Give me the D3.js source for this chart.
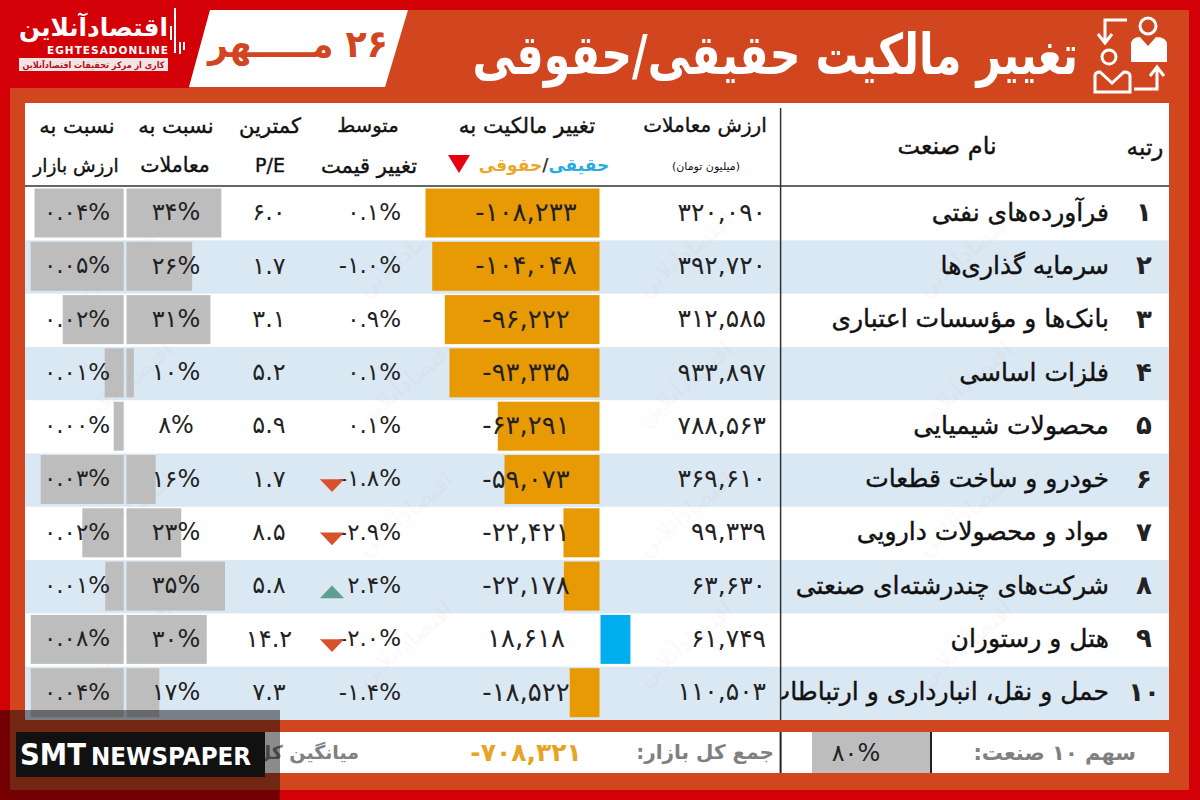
<!DOCTYPE html>
<html lang="fa">
<head>
<meta charset="utf-8">
<script src="https://cdn.jsdelivr.net/npm/d3@7/dist/d3.min.js"></script>
<style>
    html, body { margin: 0; padding: 0; background: #d40008; }
    svg { display: block; }
    text { font-family: "DejaVu Sans", "Noto Sans", sans-serif; }
</style>
</head>
<body>
<script>
const ranks = [1, 2, 3, 4, 5, 6, 7, 8, 9, 10];
const industries = ["فرآورده‌های نفتی", "سرمایه گذاری‌ها", "بانک‌ها و مؤسسات اعتباری", "فلزات اساسی", "محصولات شیمیایی",
    "خودرو و ساخت قطعات", "مواد و محصولات دارویی", "شرکت‌های چندرشته‌ای صنعتی", "هتل و رستوران", "حمل و نقل، انبارداری و ارتباطات"];
const tradeValue = [320090, 392720, 312585, 933897, 788563, 369610, 99339, 63630, 61749, 110503];
const netChange = [-108233, -104048, -96222, -93335, -63291, -59073, -22421, -22178, 18618, -18522];
const priceChange = [0.1, -1.0, 0.9, 0.1, 0.1, -1.8, -2.9, 2.4, -2.0, -1.4];
const minPE = [6.0, 1.7, 3.1, 5.2, 5.9, 1.7, 8.5, 5.8, 14.2, 7.3];
const tradeShare = [34, 26, 31, 10, 8, 16, 23, 35, 30, 17];
const marketShare = [0.0408, 0.05, 0.024, 0.012, 0.004, 0.034, 0.0184, 0.0115, 0.08, 0.0449];
const marketTotal = -708321;
const topTenShare = 80;

const RED = "#d40008", PANEL = "#d2461f", INK = "#222222", GREY = "#808080";
const fa = s => String(s).replace("−", "-").replace(/\d/g, d => "۰۱۲۳۴۵۶۷۸۹"[d]);
const comma = d3.format(",");

const svg = d3.select("body").append("svg")
    .attr("width", 1200)
    .attr("height", 800);

// frame
svg.append("rect").attr("width", 1200).attr("height", 800).attr("fill", RED);
svg.append("polygon")
    .attr("points", "210,10 1189,10 1189,790 10,790 10,88 189,88")
    .attr("fill", PANEL);
svg.append("rect").attr("x", 25).attr("y", 103).attr("width", 1144).attr("height", 617).attr("fill", "white");

// rows
const y = d3.scaleBand().domain(ranks).range([187, 720]);
const barH = y.bandwidth() - 4.3;

svg.selectAll(".band")
    .data(ranks.filter(r => r % 2 == 0))
    .enter()
    .append("rect")
    .attr("class", "band")
    .attr("x", 25)
    .attr("y", d => y(d))
    .attr("width", 1144)
    .attr("height", y.bandwidth())
    .attr("fill", "#dae8f4");

// watermark, very faint
const marks = d3.range(0, 16);
svg.selectAll(".mark")
    .data(marks)
    .enter()
    .append("text")
    .attr("class", "mark")
    .attr("transform", d => `translate(${130 + (d % 4) * 280},${260 + Math.floor(d / 4) * 130}) rotate(-40)`)
    .attr("text-anchor", "middle")
    .attr("font-size", 24)
    .attr("fill", "#d40008")
    .attr("opacity", 0.025)
    .text("اقتصادآنلاین");

// net change bars, zero sits on the column edge
const xNet = d3.scaleLinear().domain([0, 108233]).range([0, 174]);
const zeroX = 599.5;
svg.selectAll(".net")
    .data(ranks)
    .enter()
    .append("rect")
    .attr("class", "net")
    .attr("x", (d, i) => netChange[i] < 0 ? zeroX - xNet(-netChange[i]) : zeroX + 1)
    .attr("y", d => y(d) + 1.5)
    .attr("width", (d, i) => xNet(Math.abs(netChange[i])))
    .attr("height", barH)
    .attr("fill", (d, i) => netChange[i] < 0 ? "#e89a05" : "#00aeef");

// share of trades, data bar starts at the smallest value
const xTrade = d3.scaleLinear().domain([8, 35]).range([126.5, 225]);
svg.selectAll(".trade")
    .data(ranks)
    .enter()
    .append("rect")
    .attr("class", "trade")
    .attr("x", 126.5)
    .attr("y", d => y(d) + 1.5)
    .attr("width", (d, i) => xTrade(tradeShare[i]) - 126.5)
    .attr("height", barH)
    .attr("fill", "#bdbdbd");

// share of market value, bars grow from the right and the cell caps them
const xMarket = d3.scaleLinear()
    .domain([0.004, 0.012, 0.024, 0.034, 0.045])
    .range([10, 19, 61, 83, 93])
    .clamp(true);
svg.selectAll(".market")
    .data(ranks)
    .enter()
    .append("rect")
    .attr("class", "market")
    .attr("x", (d, i) => 123.7 - xMarket(marketShare[i]))
    .attr("y", d => y(d) + 1.5)
    .attr("width", (d, i) => xMarket(marketShare[i]))
    .attr("height", barH)
    .attr("fill", "#bdbdbd");

// numbers in the columns
function column(name, anchor, x, size, label) {
    return svg.selectAll("." + name)
        .data(ranks)
        .enter()
        .append("text")
        .attr("class", name)
        .attr("x", x)
        .attr("y", d => y(d) + y.bandwidth() / 2 - 2)
        .attr("dy", "0.36em")
        .attr("text-anchor", anchor)
        .attr("direction", "ltr")
        .attr("font-size", size)
        .attr("fill", INK)
        .text((d, i) => label(i));
}
column("c-market", "middle", 77, 23, i => fa(d3.format(".2f")(marketShare[i])) + "%");
column("c-trade", "middle", 176, 24, i => fa(tradeShare[i]) + "%");
column("c-pe", "middle", 269, 24, i => fa(minPE[i].toFixed(1)));
column("c-price", "end", 401, 23, i => fa(priceChange[i].toFixed(1)) + "%");
column("c-net", "middle", 526, 26, i => fa(comma(netChange[i])));
column("c-value", "end", 766, 25, i => fa(comma(tradeValue[i])));
column("c-rank", "middle", 1144, 26, i => fa(ranks[i])).attr("font-weight", "bold");

// price change arrows for the large moves only
const tri = d3.symbol().type(d3.symbolTriangle).size(130);
svg.selectAll(".arrow")
    .data(ranks.filter((d, i) => Math.abs(priceChange[i]) > 1.5))
    .enter()
    .append("path")
    .attr("class", "arrow")
    .attr("d", tri)
    .attr("transform", d => {
        const up = priceChange[d - 1] > 0;
        return `translate(332,${y(d) + (up ? 34 : 30)}) rotate(${up ? 0 : 180}) scale(1.4,0.85)`;
    })
    .attr("fill", d => priceChange[d - 1] > 0 ? "#5f9f8f" : "#d9512c");

// industry names, the last one runs into the divider
svg.append("clipPath").attr("id", "names")
    .append("rect").attr("x", 781).attr("y", 187).attr("width", 388).attr("height", 533);
svg.append("g").attr("clip-path", "url(#names)")
    .selectAll("text")
    .data(ranks)
    .enter()
    .append("text")
    .attr("x", 1109)
    .attr("y", d => y(d) + y.bandwidth() / 2 - 2)
    .attr("dy", "0.36em")
    .attr("direction", "rtl")
    .attr("text-anchor", "start")
    .attr("font-size", 25)
    .attr("fill", "#111")
    .attr("stroke", "#111")
    .attr("stroke-width", 0.4)
    .text((d, i) => industries[i]);

// rules
svg.append("line").attr("x1", 25).attr("x2", 1169).attr("y1", 186).attr("y2", 186)
    .attr("stroke", "#333").attr("stroke-width", 1.5);
svg.append("line").attr("x1", 780.6).attr("x2", 780.6).attr("y1", 108).attr("y2", 720)
    .attr("stroke", "#333").attr("stroke-width", 1.5);

// column headers
const headers = [
    ["نسبت به", 77, 125, 21], ["ارزش بازار", 76, 165, 18.5],
    ["نسبت به", 176, 125, 21], ["معاملات", 175, 165, 20.5],
    ["کمترین", 270, 125, 21], ["P/E", 270, 165, 19],
    ["متوسط", 368, 125, 19.5], ["تغییر قیمت", 369, 165, 21],
    ["تغییر مالکیت به", 527, 125, 21.5],
    ["ارزش معاملات", 705, 125, 20], ["(میلیون تومان)", 706, 166, 11],
    ["نام صنعت", 947, 145, 24], ["رتبه", 1145, 147, 23]
];
svg.selectAll(".head")
    .data(headers)
    .enter()
    .append("text")
    .attr("class", "head")
    .attr("x", d => d[1])
    .attr("y", d => d[2])
    .attr("dy", "0.36em")
    .attr("text-anchor", "middle")
    .attr("font-size", d => d[3])
    .attr("fill", "#111")
    .attr("stroke", "#111")
    .attr("stroke-width", d => d[3] > 11 ? 0.4 : 0)
    .text(d => d[0]);

const legend = svg.append("text")
    .attr("x", 544).attr("y", 165).attr("dy", "0.36em")
    .attr("text-anchor", "middle")
    .attr("direction", "rtl")
    .attr("font-size", 17)
    .attr("font-weight", "bold");
legend.append("tspan").attr("fill", "#29abe2").text("حقیقی");
legend.append("tspan").attr("fill", "#333").text("/");
legend.append("tspan").attr("fill", "#e9a82c").text("حقوقی");
svg.append("polygon").attr("points", "448,155 470,155 459,173").attr("fill", "#e60012");

// title and date, squeezed sideways to the width they have in the picture
svg.append("text")
    .attr("transform", "translate(1078,54) scale(0.763,1)")
    .attr("dy", "0.36em")
    .attr("direction", "rtl")
    .attr("text-anchor", "start")
    .attr("font-size", 56)
    .attr("font-weight", "bold")
    .attr("fill", "white")
    .text("تغییر مالکیت حقیقی/حقوقی");

svg.append("polygon").attr("points", "210,10 408,10 385,87 189,87").attr("fill", "white");
svg.append("text")
    .attr("x", 388).attr("y", 43).attr("dy", "0.36em")
    .attr("direction", "rtl")
    .attr("text-anchor", "start")
    .attr("font-size", 38)
    .attr("font-weight", "bold")
    .attr("fill", PANEL)
    .attr("textLength", 180)
    .attr("lengthAdjust", "spacingAndGlyphs")
    .text("۲۶ مـــــهر");

// header icon
const icon = svg.append("g").attr("stroke", "white").attr("fill", "none").attr("stroke-width", 3);
icon.append("circle").attr("cx", 1148).attr("cy", 26).attr("r", 8);
icon.append("path").attr("fill", "white").attr("stroke", "none")
    .attr("d", "M1131,62 V45 Q1131,37 1140,37 L1148,46 L1156,37 Q1167,37 1167,45 V62 Z");
icon.append("circle").attr("cx", 1109).attr("cy", 57).attr("r", 7);
icon.append("path").attr("d", "M1095,92 V76 Q1095,72 1100,72 L1112,83 L1124,72 Q1130,72 1130,76 V92 Z");
icon.append("path").attr("d", "M1127,20 H1105 V42 M1098,34 L1105,43 L1112,34");
icon.append("path").attr("d", "M1134,89 H1157 V68 M1150,76 L1157,67 L1164,76");

// logo
svg.append("text")
    .attr("x", 168).attr("y", 27).attr("dy", "0.36em")
    .attr("direction", "rtl").attr("text-anchor", "start")
    .attr("font-size", 25).attr("font-weight", "bold").attr("fill", "white")
    .attr("textLength", 149).attr("lengthAdjust", "spacingAndGlyphs")
    .text("اقتصادآنلاین");
svg.append("text")
    .attr("x", 47).attr("y", 50).attr("dy", "0.36em")
    .attr("font-size", 10.5).attr("font-weight", "bold").attr("fill", "white")
    .attr("textLength", 121)
    .text("EGHTESADONLINE");
svg.append("rect").attr("x", 19).attr("y", 58).attr("width", 149).attr("height", 13).attr("fill", "#f3e3e3");
svg.append("text")
    .attr("x", 93.5).attr("y", 64.5).attr("dy", "0.36em")
    .attr("text-anchor", "middle")
    .attr("font-size", 9).attr("font-weight", "bold").attr("fill", "#b01020")
    .attr("textLength", 142).attr("lengthAdjust", "spacingAndGlyphs")
    .text("کاری از مرکز تحقیقات اقتصادآنلاین");
svg.selectAll(".logobar")
    .data([[171, 26, 40], [175, 8, 53], [180, 42, 54], [184, 42, 50]])
    .enter()
    .append("line")
    .attr("class", "logobar")
    .attr("x1", d => d[0]).attr("x2", d => d[0])
    .attr("y1", d => d[1]).attr("y2", d => d[2])
    .attr("stroke", "white").attr("stroke-width", 2);

// footer
svg.append("rect").attr("x", 25).attr("y", 732).attr("width", 1144).attr("height", 41).attr("fill", "white");
svg.append("rect").attr("x", 812).attr("y", 732).attr("width", 118).attr("height", 41).attr("fill", "#bdbdbd");
svg.selectAll(".footrule")
    .data([780.6, 931])
    .enter()
    .append("line")
    .attr("class", "footrule")
    .attr("x1", d => d).attr("x2", d => d)
    .attr("y1", 732).attr("y2", 773)
    .attr("stroke", "#222").attr("stroke-width", 2);

function foot(txt, x, anchor, size, fill, weight, dir) {
    svg.append("text")
        .attr("x", x).attr("y", 752).attr("dy", "0.36em")
        .attr("text-anchor", anchor)
        .attr("direction", dir)
        .attr("font-size", size)
        .attr("font-weight", weight)
        .attr("fill", fill)
        .text(txt);
}
foot("سهم ۱۰ صنعت:", 1136, "start", 21, GREY, "bold", "rtl");
foot(fa(topTenShare) + "%", 856, "middle", 24, INK, "normal", "ltr");
foot("جمع کل بازار:", 774, "start", 20, GREY, "bold", "rtl");
foot(fa(comma(marketTotal)), 526, "middle", 25, "#e6a427", "bold", "ltr");
foot("میانگین کل", 359, "start", 19, GREY, "bold", "rtl");

// newspaper stamp over the corner
svg.append("rect").attr("x", 0).attr("y", 710).attr("width", 280).attr("height", 90).attr("fill", "black").attr("opacity", 0.45);
svg.append("rect").attr("x", 16).attr("y", 732).attr("width", 249).attr("height", 45).attr("fill", "#111");
svg.append("text").attr("x", 20).attr("y", 765)
    .attr("font-family", "Roboto").attr("font-size", 30).attr("font-weight", "bold")
    .attr("fill", "white").attr("textLength", 66).attr("lengthAdjust", "spacingAndGlyphs")
    .text("SMT");
svg.append("text").attr("x", 91).attr("y", 765)
    .attr("font-family", "Roboto").attr("font-size", 25).attr("font-weight", "bold")
    .attr("fill", "white").attr("textLength", 160).attr("lengthAdjust", "spacingAndGlyphs")
    .text("NEWSPAPER");
</script>
</body>
</html>
